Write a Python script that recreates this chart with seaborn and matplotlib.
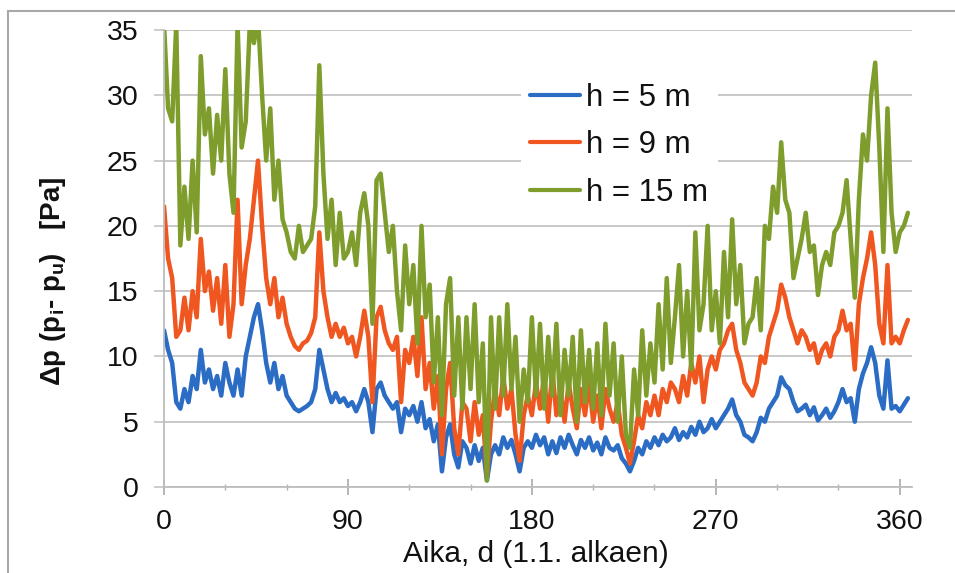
import numpy as np
import pandas as pd
import matplotlib
matplotlib.use("Agg")
import matplotlib.pyplot as plt
import seaborn as sns
from matplotlib.lines import Line2D
from matplotlib.patches import Rectangle
from matplotlib.ticker import MultipleLocator

# ---------------- data ----------------
days = np.arange(0, 365, 2)

dp_5m = [
    12, 10.5, 9.5, 6.5, 6, 7.5, 6.5, 8.5, 7.5, 10.5,
    8, 9, 7.5, 8.5, 7, 9.5, 8, 7, 9, 7,
    10, 11.5, 13, 14, 12, 9.5, 8, 9.5, 7.5, 8.5,
    7, 6.5, 6, 5.8, 6, 6.2, 6.5, 7.5, 10.5, 9,
    7.5, 6.5, 7.2, 6.5, 6.8, 6.2, 6.5, 5.8, 6.5, 7.5,
    6.5, 4.2, 7.5, 8, 7, 6.5, 6, 6.5, 4.2, 6,
    5.5, 6.2, 5, 6.5, 4.5, 5.2, 3.5, 4.8, 1.2, 3.8,
    4.8, 2.5, 1.5, 3.5, 3, 1.8, 3.2, 2, 3, 0.5,
    2.5, 3.2, 2.5, 3.8, 3, 3.6, 2.5, 1.2, 3, 3.5,
    3, 4, 3.2, 3.8, 2.5, 3.5, 2.6, 3.8, 3, 4,
    3.2, 2.5, 3.6, 3, 3.8, 2.8, 3.4, 2.5, 3.8, 3,
    2.8, 3.2, 2.2, 1.8, 1.2, 2, 3, 2.5, 3.5, 3,
    3.8, 3.2, 4, 3.5, 3.8, 4.5, 3.6, 4.2, 3.8, 4.6,
    4, 5, 4.2, 4.5, 5.2, 4.5, 5, 5.5, 6, 6.7,
    5.5, 5, 4, 3.8, 3.5, 4.2, 5.3, 5, 6, 6.5,
    7, 8.4, 7.8, 7.5, 6.5, 5.8, 6, 6.3, 5.5, 6.1,
    5.1, 5.5, 6, 5.3, 5.8, 6.5, 7.5, 6.5, 6.8, 5,
    7.5, 8.7, 9.5, 10.7, 9.5, 7, 6, 9.7, 6, 6.2,
    5.8, 6.3, 6.8,
]

dp_9m = [
    21.5, 17.5, 16, 11.5, 12, 14.5, 12, 15, 13, 19,
    15, 16.5, 13.5, 16, 12.5, 17, 11.5, 14, 22, 14,
    17, 19, 22, 25, 20, 16, 14, 16, 13, 14.5,
    12.5, 11.5, 10.8, 10.5, 11, 11.2, 11.8, 13, 19.5, 15,
    13, 11.5, 12.5, 11.5, 12.2, 11, 11.5, 10, 11.5, 13.5,
    11.5, 6.5, 13, 13.8, 12, 11, 10.5, 11.5, 6.5, 10.5,
    9.5, 11.5, 8.5, 13, 7.5, 9.5, 6, 8.5, 2.5, 7.5,
    9.5, 4.5, 2.5, 6.5, 6, 3.5, 6.5, 4, 5.5, 0.8,
    5, 7.5, 5.5, 8.5, 6, 7.5, 4, 2, 5.5, 7,
    5.5, 8, 6, 8.5, 5, 9, 5.5, 7.5, 5, 8,
    6, 4.5, 7.5, 5.5, 8, 5, 7, 4.5, 7.5, 6,
    5, 6.5, 4, 3, 1.8, 3.5, 5.5, 4.5, 6.5, 5.5,
    7, 5.5, 7.5, 6.5, 8, 7.5, 6.5, 8.5, 7, 9.5,
    8, 10, 6.5, 9, 10, 9, 10.5, 11, 12, 12.5,
    10.5, 9.5, 8, 7.5, 7, 8, 10, 9.5, 11.5, 12.5,
    13.5, 15.5, 14.5, 13, 12, 11, 12, 11.5, 10.5, 11,
    9.5, 10.5, 11, 10, 11.5, 12, 13.5, 12, 12.5, 9,
    14, 16, 17.5, 19.5, 17, 12.5, 11, 17, 11, 11.5,
    11, 12, 12.8,
]

dp_15m = [
    35.5, 29, 28, 35.5, 18.5, 23, 19, 25, 19.5, 33,
    27, 29, 24, 28.5, 25, 32, 24, 21, 35.5, 26,
    28, 35.5, 34, 36, 30, 25, 29, 22, 25, 20.5,
    19.5, 18, 17.5, 20, 18, 18.5, 19, 21.5, 32.3, 24,
    19, 22, 17, 21, 17.5, 18, 19.5, 17, 21, 22.5,
    20, 12.5, 23.5, 24, 21, 18, 20, 15, 12, 18.5,
    14, 17, 11, 20, 13, 15.5, 8, 13, 5.5, 14,
    16, 7, 13, 6, 13, 7.5, 14, 6.5, 11, 0.5,
    13, 6, 13, 7, 14, 7.5, 11.5, 5, 9, 6.5,
    13, 7, 12.5, 6, 11.5, 7, 12.5, 5.5, 10.5, 7,
    11.5, 5, 12, 6.5, 10.5, 6, 11, 5.5, 12.5, 7,
    11, 5, 10, 4, 3, 9, 5.5, 12, 7, 11,
    8, 14, 9, 16, 9.5, 13, 17, 10, 15, 9,
    19.5, 12, 14, 20, 12, 15, 11, 18, 13, 20.5,
    14, 17, 11, 12.5, 13, 16, 12, 20, 19, 23,
    21, 26.4, 22, 21, 16, 17.5, 19, 21, 18, 18.5,
    14.7, 17, 18, 17, 19.5, 20, 21, 23.5, 19, 14.5,
    22, 27, 25, 30, 32.5, 26, 18, 29, 21, 18,
    19.5, 20, 21,
]

series_labels = ["h = 5 m", "h = 9 m", "h = 15 m"]
series_colors = ["#2b6cc4", "#f0561f", "#7f9d2c"]
x_ticks = [0, 90, 180, 270, 360]
y_ticks = [0, 5, 10, 15, 20, 25, 30, 35]
x_label = "Aika, d (1.1. alkaen)"
y_label = r"Δp (p$_{\mathbf{i}}$- p$_{\mathbf{u}}$)   [Pa]"

df = pd.DataFrame({
    "day": np.tile(days, 3),
    "dp": np.concatenate([dp_5m, dp_9m, dp_15m]),
    "h": np.repeat(series_labels, len(days)),
})

# ---------------- style ----------------
sns.set_theme(style="white")
plt.rcParams["font.family"] = ["Liberation Sans", "DejaVu Sans"]
plt.rcParams["mathtext.fontset"] = "custom"
plt.rcParams["mathtext.rm"] = "Liberation Sans"
plt.rcParams["mathtext.it"] = "Liberation Sans:italic"
plt.rcParams["mathtext.bf"] = "Liberation Sans:bold"

fig = plt.figure(figsize=(9.55, 5.73), dpi=100)
ax = fig.add_axes([164 / 955, 86 / 573, 748 / 955, 457 / 573])

sns.lineplot(data=df, x="day", y="dp", hue="h", hue_order=series_labels,
             palette=series_colors, linewidth=3.2, estimator=None,
             legend=False, ax=ax)

ax.set_xlim(0, 366)
ax.set_ylim(0, 35)
ax.set_xticks(x_ticks)
ax.set_yticks(y_ticks)
ax.xaxis.set_minor_locator(MultipleLocator(30))

ax.set_axisbelow(True)
ax.yaxis.grid(True, color="#c8c8c8", linewidth=1.4)
ax.xaxis.grid(False)

for s in ["top", "right"]:
    ax.spines[s].set_visible(False)
for s in ["left", "bottom"]:
    ax.spines[s].set_color("#bdbdbd")
    ax.spines[s].set_linewidth(1.3)

ax.tick_params(axis="y", which="major", direction="out", length=7,
               width=1.3, color="#c8c8c8", pad=11.5, labelsize=20.5,
               labelcolor="#111111", left=True)
ax.tick_params(axis="x", which="major", direction="inout", length=12,
               width=1.3, color="#b0b0b0", pad=10, labelsize=20.5,
               labelcolor="#111111", bottom=True)
ax.tick_params(axis="x", which="minor", direction="inout", length=4,
               width=1.0, color="#b0b0b0", bottom=True)

ax.set_xlabel(x_label, fontsize=21.5, color="#111111")
ax.xaxis.set_label_coords(0.497, -0.116)
ax.set_ylabel(y_label, fontsize=20, fontweight="bold", color="#111111")
ax.yaxis.set_label_coords(-0.129, 0.449)

handles = [Line2D([], [], color=c, linewidth=3.0) for c in series_colors]
leg = ax.legend(handles, series_labels, loc="upper left",
                bbox_to_anchor=(0.477, 0.904), frameon=True,
                facecolor="white", edgecolor="none", framealpha=1,
                fontsize=22.5, handlelength=1.6, handletextpad=0.2,
                labelspacing=0.55, borderpad=0.3, borderaxespad=0)
for t in leg.get_texts():
    t.set_color("#111111")

# outer chart border (only left and top edges visible in the reference)
fig.add_artist(Rectangle((8 / 955, -0.2), 2.0, (573 - 11) / 573 + 0.2,
                         transform=fig.transFigure, fill=False,
                         edgecolor="#a8a8a8", linewidth=1.5))

fig.savefig("out.png", dpi=100)
